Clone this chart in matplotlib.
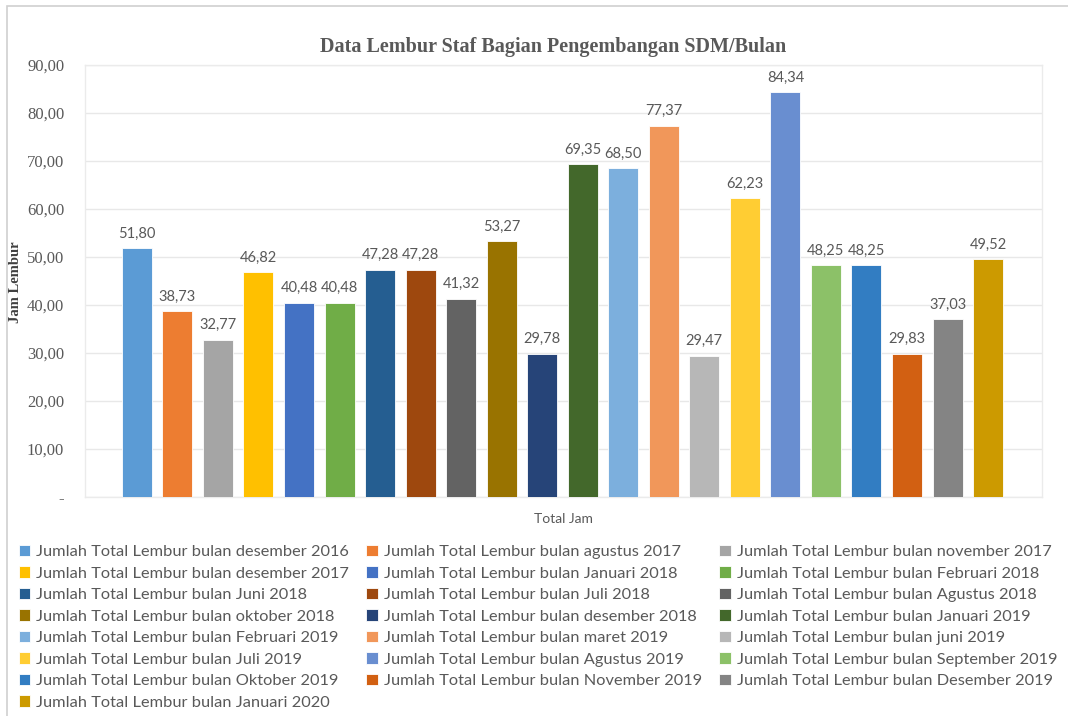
import matplotlib.pyplot as plt
from matplotlib.patches import Rectangle

# Data
months = [
    "desember 2016", "agustus 2017", "november 2017", "desember 2017",
    "Januari 2018", "Februari 2018", "Juni 2018", "Juli 2018",
    "Agustus 2018", "oktober 2018", "desember 2018", "Januari 2019",
    "Februari 2019", "maret 2019", "juni 2019", "Juli 2019",
    "Agustus 2019", "September 2019", "Oktober 2019", "November 2019",
    "Desember 2019", "Januari 2020",
]
hours = [51.80, 38.73, 32.77, 46.82, 40.48, 40.48, 47.28, 47.28, 41.32, 53.27, 29.78,
         69.35, 68.50, 77.37, 29.47, 62.23, 84.34, 48.25, 48.25, 29.83, 37.03, 49.52]
colors = ["#5B9BD5", "#ED7D31", "#A5A5A5", "#FFC000", "#4472C4", "#70AD47",
          "#255E91", "#9E480E", "#636363", "#997300", "#264478", "#43682B",
          "#7CAFDD", "#F1975A", "#B7B7B7", "#FFCD33", "#698ED0", "#8CC168",
          "#327DC2", "#D26012", "#848484", "#CC9A00"]
y_ticks = [0, 10, 20, 30, 40, 50, 60, 70, 80, 90]

gray = "#595959"

fig = plt.figure(figsize=(10.68, 7.16), dpi=100)
# outer chart border (bottom edge falls outside the picture)
fig.patches.append(Rectangle((7 / 1068, -0.02), 1 - 7 / 1068 + 0.01, 1 - 6 / 716 + 0.02,
                             transform=fig.transFigure, fill=False,
                             edgecolor="#D0D0D0", linewidth=1.2))

ax = fig.add_axes([85 / 1068, 1 - 497 / 716, (1042 - 85) / 1068, (497 - 65) / 716])

x = list(range(len(hours)))
bars = ax.bar(x, hours, width=0.74, color=colors, zorder=3)
for b in bars:
    b.set_edgecolor("white")
    b.set_linewidth(0.6)

for xi, v in zip(x, hours):
    ax.text(xi, v + 1.6, f"{v:.2f}".replace(".", ","), ha="center", va="bottom",
            fontsize=10.5, color=gray, family="Lato")

ax.set_xlim(-1.28, 22.33)
ax.set_ylim(0, 90)
ax.set_yticks(y_ticks)
ax.set_yticklabels(["-" if t == 0 else f"{t:.2f}".replace(".", ",") for t in y_ticks],
                   family="Liberation Serif", fontsize=12, color=gray)
ax.tick_params(axis="y", length=0, pad=15)
ax.set_xticks([])
ax.grid(axis="y", color="#E8E8E8", linewidth=1, zorder=0)
for s in ax.spines.values():
    s.set_color("#EBEBEB")
    s.set_linewidth(1)

fig.text(553 / 1068, 1 - 47 / 716, "Data Lembur Staf Bagian Pengembangan SDM/Bulan",
         ha="center", va="center", family="Liberation Serif", fontweight="bold",
         fontsize=14.5, color=gray)
fig.text(16 / 1068, 1 - 282 / 716, "Jam Lembur", rotation=90, ha="center", va="center",
         family="Liberation Serif", fontweight="bold", fontsize=10.5, color="#404040")
fig.text(563 / 1068, 1 - 519 / 716, "Total Jam", ha="center", va="center",
         family="Lato", fontsize=10, color=gray)

# legend: reorder so column-major fill shows row-major order
labels = ["Jumlah Total Lembur bulan " + m for m in months]
order = [i for c in range(3) for i in range(c, len(months), 3)]
leg = fig.legend([bars[i] for i in order], [labels[i] for i in order],
                 loc="upper left", bbox_to_anchor=(12 / 1068, 1 - 538 / 716),
                 ncol=3, frameon=False, prop={"family": "Lato", "size": 11.8},
                 handlelength=0.7, handleheight=0.7, handletextpad=0.35,
                 columnspacing=1.08, labelspacing=0.43, borderaxespad=0)
for t in leg.get_texts():
    t.set_color(gray)

fig.savefig("out.png", dpi=100)
